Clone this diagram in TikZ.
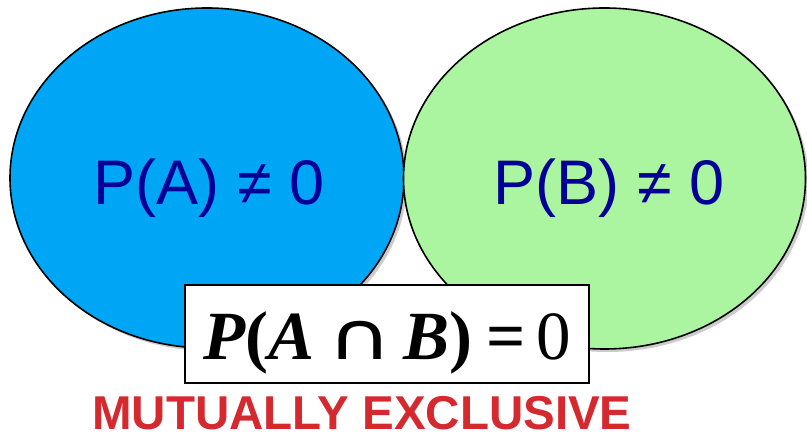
\documentclass[tikz,border=0pt]{standalone}
\usepackage{fontspec}
\setmainfont{Liberation Serif}
\newfontfamily\arialfont{Liberation Sans}
\newfontfamily\symfont{DejaVu Sans}
\usetikzlibrary{shadows,shapes.geometric}
\definecolor{ablue}{RGB}{0,166,246}
\definecolor{bgreen}{RGB}{171,245,160}
\definecolor{ptext}{RGB}{0,0,150}
\definecolor{mred}{RGB}{212,41,47}
\tikzset{
  setshape/.style={ellipse, draw=black, line width=1.6pt, inner sep=0pt,
    drop shadow={shadow xshift=3pt, shadow yshift=-3pt, opacity=0.4}},
  setlabel/.style={anchor=base, text=ptext, font=\arialfont\fontsize{63}{70}\selectfont},
  formulabox/.style={draw=black, line width=1.5pt, fill=white, inner sep=0pt},
}
\begin{document}
\begin{tikzpicture}[x=1pt,y=-1pt]
\useasboundingbox (0,0) rectangle (807,435);
\node[setshape, fill=ablue, minimum width=394pt, minimum height=340pt] (A) at (207,178) {};
\node[setshape, fill=bgreen, minimum width=402pt, minimum height=341pt] (B) at (604.5,178.5) {};
\node[setlabel] (la) at (209,205) {P(A) ≠ 0};
\node[setlabel] (lb) at (609,205) {P(B) ≠ 0};
\node[formulabox, minimum width=404pt, minimum height=98pt] (box) at (387,334) {};
\node[anchor=base west, inner sep=0pt, font=\fontsize{69}{80}\selectfont] (f) at (203,360)
  {\textbf{\textit{P}}\textbf{(}\textbf{\textit{A}}\hspace{13pt}\scalebox{1.35}[1]{\symfont\fontsize{66}{70}\selectfont ∩}\hspace{10pt}\textbf{\textit{B}}\textbf{)}\hspace{15pt}\textbf{=}\hspace{10pt}0};
\node[anchor=base, text=mred, font=\arialfont\bfseries\fontsize{47.5}{52}\selectfont] (me) at (362,430) {MUTUALLY EXCLUSIVE};
\end{tikzpicture}
\end{document}
